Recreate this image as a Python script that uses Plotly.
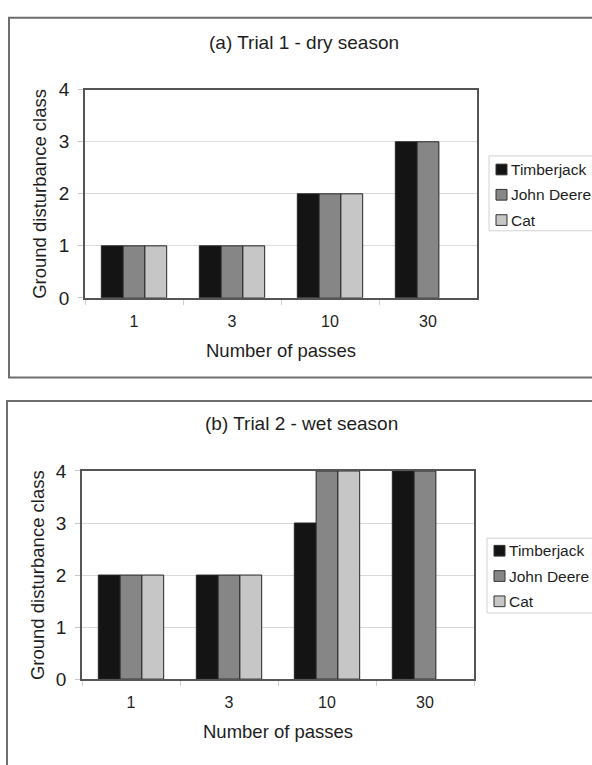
import plotly.graph_objects as go

W, H = 592, 765

# Data: ground disturbance class by number of machine passes
passes = ["1", "3", "10", "30"]
machines = ["Timberjack", "John Deere", "Cat"]
machine_colors = ["#141414", "#868686", "#c6c6c6"]

trial1_timberjack = [1, 1, 2, 3]
trial1_john_deere = [1, 1, 2, 3]
trial1_cat = [1, 1, 2, None]

trial2_timberjack = [2, 2, 3, 4]
trial2_john_deere = [2, 2, 4, 4]
trial2_cat = [2, 2, 4, None]

panel_titles = ["(a) Trial 1 - dry season", "(b) Trial 2 - wet season"]
y_ticks = [0, 1, 2, 3, 4]
x_title = "Number of passes"
y_title = "Ground disturbance class"

FONT = "Liberation Sans, Arial, sans-serif"
TXT = "#1e1e1e"


def px(x):
    return x / W


def py(y):
    return 1 - y / H


# Pixel layout of each panel
panels = [
    dict(series=[trial1_timberjack, trial1_john_deere, trial1_cat],
         frame=(9, 8, 604, 378), plot=(85, 82, 477, 296),
         title=(304, 33), xt=(281, 350), yt=(40, 189),
         legend=(489, 150, 604, 227), rows=[164, 190, 216], sw=(496, 507), tx=509),
    dict(series=[trial2_timberjack, trial2_john_deere, trial2_cat],
         frame=(7, 402, 604, 800), plot=(82, 474, 474, 688),
         title=(301, 425), xt=(278, 742), yt=(37, 581),
         legend=(487, 543, 604, 620), rows=[556, 582, 608], sw=(494, 505), tx=507),
]

fig = go.Figure()
shapes = []
annotations = []
layout_axes = {}

for i, p in enumerate(panels):
    xa = "x" if i == 0 else f"x{i + 1}"
    ya = "y" if i == 0 else f"y{i + 1}"
    for name, color, vals in zip(machines, machine_colors, p["series"]):
        fig.add_trace(go.Bar(
            x=passes, y=vals, name=name, xaxis=xa, yaxis=ya,
            marker=dict(color=color, line=dict(color="#262626", width=1)),
            showlegend=False,
        ))

    x0, y0, x1, y1 = p["plot"]
    xkey = "xaxis" if i == 0 else f"xaxis{i + 1}"
    ykey = "yaxis" if i == 0 else f"yaxis{i + 1}"
    layout_axes[xkey] = dict(
        domain=[px(x0), px(x1)], anchor=ya, type="category",
        showline=True, mirror=True, linecolor="#555555", linewidth=1.5,
        ticks="outside", ticklen=5, tickcolor="#d0d0d0", tickson="boundaries",
        ticklabelstandoff=8,
        tickfont=dict(family=FONT, size=16, color=TXT),
        showgrid=False, fixedrange=True,
    )
    layout_axes[ykey] = dict(
        domain=[py(y1), py(y0)], anchor=xa, range=[0, 4],
        tickvals=y_ticks, ticktext=[str(t) for t in y_ticks],
        showline=True, mirror=True, linecolor="#555555", linewidth=1.5,
        ticks="outside", ticklen=5, tickcolor="#c8c8c8",
        ticklabelstandoff=5,
        tickfont=dict(family=FONT, size=19, color=TXT),
        showgrid=True, gridcolor="#dadada", gridwidth=1,
        zeroline=False, fixedrange=True,
    )

    # outer chart frame
    fx0, fy0, fx1, fy1 = p["frame"]
    shapes.append(dict(type="rect", xref="paper", yref="paper",
                       x0=px(fx0), x1=px(fx1), y0=py(fy1), y1=py(fy0),
                       line=dict(color="#6e6e6e", width=2), fillcolor="rgba(0,0,0,0)",
                       layer="below"))

    # titles
    tx_, ty_ = p["title"]
    annotations.append(dict(text=panel_titles[i], x=px(tx_), y=py(ty_), xref="paper", yref="paper",
                            showarrow=False, xanchor="center", yanchor="middle",
                            font=dict(family=FONT, size=19, color=TXT)))
    ax_, ay_ = p["xt"]
    annotations.append(dict(text=x_title, x=px(ax_), y=py(ay_), xref="paper", yref="paper",
                            showarrow=False, xanchor="center", yanchor="middle",
                            font=dict(family=FONT, size=18.5, color=TXT)))
    bx_, by_ = p["yt"]
    annotations.append(dict(text=y_title, x=px(bx_), y=py(by_), xref="paper", yref="paper",
                            showarrow=False, xanchor="center", yanchor="middle", textangle=-90,
                            font=dict(family=FONT, size=18.5, color=TXT)))

    # legend box with swatches
    lx0, ly0, lx1, ly1 = p["legend"]
    shapes.append(dict(type="rect", xref="paper", yref="paper",
                       x0=px(lx0), x1=px(lx1), y0=py(ly1), y1=py(ly0),
                       line=dict(color="#d2d2d2", width=1), fillcolor="white"))
    s0, s1 = p["sw"]
    half = (s1 - s0) / 2
    for name, color, ry in zip(machines, machine_colors, p["rows"]):
        shapes.append(dict(type="rect", xref="paper", yref="paper",
                           x0=px(s0), x1=px(s1), y0=py(ry + half), y1=py(ry - half),
                           line=dict(color="#333333", width=1), fillcolor=color))
        annotations.append(dict(text=name, x=px(p["tx"]), y=py(ry), xref="paper", yref="paper",
                                showarrow=False, xanchor="left", yanchor="middle",
                                font=dict(family=FONT, size=15.5, color=TXT)))

fig.update_layout(
    width=W, height=H,
    margin=dict(l=0, r=0, t=0, b=0),
    paper_bgcolor="white", plot_bgcolor="white",
    barmode="group", bargap=0.333, bargroupgap=0,
    shapes=shapes, annotations=annotations,
    **layout_axes,
)

fig.write_html("out.html")
